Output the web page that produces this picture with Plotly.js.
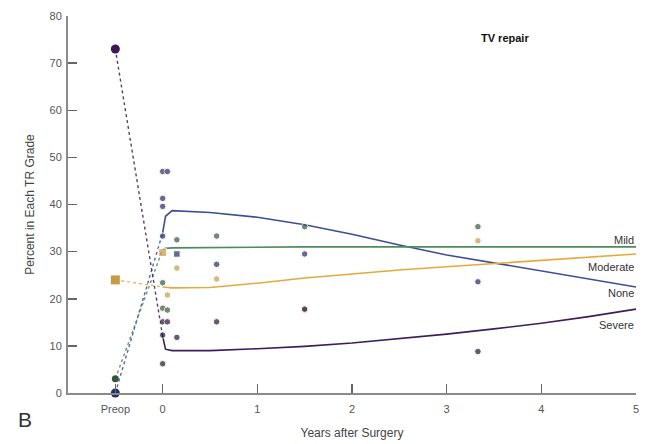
<!DOCTYPE html>
<html>
<head>
<meta charset="utf-8">
<script src="https://cdn.plot.ly/plotly-3.0.1.min.js"></script>
<style>html,body{margin:0;padding:0;background:#fff;}#chart{width:650px;height:444px;}</style>
</head>
<body>
<div id="chart"></div>
<script>
// ---- data ----
var grades = ["None", "Mild", "Moderate", "Severe"];
var preopX = -0.5;
var preopNone = 0, preopMild = 3, preopModerate = 24, preopSevere = 73;

var noneX = [0, 0.05, 0, 0, 0, 0.15, 0.57, 1.5, 3.33];
var noneY = [47, 47, 41.3, 39.6, 33.3, 29.5, 27.3, 29.5, 23.6];
var mildX = [0, 0, 0.05, 0.15, 0.57, 1.5, 3.33];
var mildY = [23.4, 18, 17.6, 32.5, 33.3, 35.3, 35.3];
var modX = [0, 0.05, 0.15, 0.57, 1.5, 3.33];
var modY = [29.8, 20.8, 26.5, 24.2, 17.6, 32.3];
var sevX = [0, 0.05, 0, 0, 0.15, 0.57, 1.5, 3.33];
var sevY = [15.1, 15.1, 12.3, 6.2, 11.8, 15.1, 17.8, 8.8];

var fitT = [0, 0.03, 0.1, 0.5, 1, 1.5, 2, 2.5, 3, 3.5, 4, 4.5, 5];
var noneFit = [34, 37.5, 38.7, 38.3, 37.3, 35.7, 33.7, 31.4, 29.3, 27.6, 25.8, 24.1, 22.5];
var mildFit = [30.5, 30.7, 30.8, 30.9, 31, 31, 31, 31, 31, 31, 31, 31, 31];
var modFit = [22.5, 22.4, 22.3, 22.4, 23.3, 24.4, 25.3, 26.1, 26.8, 27.5, 28.2, 28.9, 29.5];
var sevFit = [12, 9.3, 9.0, 9.0, 9.4, 9.9, 10.6, 11.5, 12.5, 13.6, 14.8, 16.2, 17.8];

var labelY = {None: 21.2, Mild: 32.5, Moderate: 26.8, Severe: 14.4};

var xTickVals = [-0.5, 0, 1, 2, 3, 4, 5];
var xTickText = ["Preop", "0", "1", "2", "3", "4", "5"];

// ---- styling ----
var col = {None: "#3f4c98", Mild: "#4f8a5c", Moderate: "#e8a93a", Severe: "#3a1f5c"};
var ptCol = {None: "#262c66", Mild: "#34563c", Moderate: "#c99a45", Severe: "#24142e"};
var font = "Liberation Sans, Arial, sans-serif";

var series = {
  None: {x: noneX, y: noneY, fit: noneFit, pre: preopNone},
  Mild: {x: mildX, y: mildY, fit: mildFit, pre: preopMild},
  Moderate: {x: modX, y: modY, fit: modFit, pre: preopModerate},
  Severe: {x: sevX, y: sevY, fit: sevFit, pre: preopSevere}
};

var traces = [];
grades.forEach(function (g) {
  var s = series[g];
  traces.push({x: [preopX, fitT[0]], y: [s.pre, s.fit[0]], mode: "lines",
    line: {color: col[g], width: 1.4, dash: "dot"}, opacity: 0.85, hoverinfo: "skip", showlegend: false, cliponaxis: false});
  traces.push({x: fitT, y: s.fit, mode: "lines",
    line: {color: col[g], width: 1.6}, showlegend: false, cliponaxis: false});
});
grades.forEach(function (g) {
  var s = series[g];
  var symbols = s.x.map(function (v, i) {
    if (g === "Moderate" && i === 0) return "square";
    if (g === "None" && i === 5) return "square";
    return "circle";
  });
  var sizes = s.x.map(function (v, i) {
    if (g === "Moderate" && i === 0) return 8;
    return 6.5;
  });
  traces.push({x: s.x, y: s.y, mode: "markers",
    marker: {color: ptCol[g], size: sizes, symbol: symbols}, showlegend: false, cliponaxis: false});
  traces.push({x: [preopX], y: [s.pre], mode: "markers",
    marker: {color: (g === "Severe" ? "#3e1854" : ptCol[g]), size: (g === "Mild" ? 7 : 9),
      symbol: (g === "Moderate" ? "square" : "circle")}, showlegend: false, cliponaxis: false});
});

var annotations = grades.map(function (g) {
  return {x: 5, y: labelY[g], xref: "x", yref: "y", text: g, showarrow: false,
    xanchor: "right", yanchor: "middle", font: {family: font, size: 11, color: "#333"}};
});
annotations.push({x: 0.77, y: 0.942, xref: "paper", yref: "paper", text: "<b>TV repair</b>", showarrow: false,
  xanchor: "center", yanchor: "middle", font: {family: font, size: 11, color: "#111"}});
annotations.push({x: -0.075, y: -0.07, xref: "paper", yref: "paper", text: "B", showarrow: false,
  xanchor: "center", yanchor: "middle", font: {family: font, size: 21, color: "#333"}});

var axisFont = {family: font, size: 11, color: "#555"};
var layout = {
  width: 650, height: 444,
  margin: {l: 68, r: 14, t: 16, b: 51},
  paper_bgcolor: "#fff", plot_bgcolor: "#fff",
  showlegend: false,
  xaxis: {range: [-1, 5], showgrid: false, zeroline: false, showline: true, linecolor: "#8a8a8a", linewidth: 2,
    ticks: "inside", ticklen: 9, tickwidth: 1.5, tickcolor: "#666",
    tickvals: xTickVals, ticktext: xTickText, tickfont: axisFont, ticklabelstandoff: 5,
    title: {text: "Years after Surgery", font: {family: font, size: 12, color: "#444"}, standoff: 14}},
  yaxis: {range: [0, 80], showgrid: false, zeroline: false, showline: true, linecolor: "#8a8a8a", linewidth: 2,
    ticks: "inside", ticklen: 9, tickwidth: 1.5, tickcolor: "#666",
    tickvals: [0, 10, 20, 30, 40, 50, 60, 70, 80], tickfont: axisFont, ticklabelstandoff: 2,
    title: {text: "Percent in Each TR Grade", font: {family: font, size: 12, color: "#444"}, standoff: 12}},
  annotations: annotations
};

Plotly.newPlot("chart", traces, layout, {displayModeBar: false, staticPlot: true});
</script>
</body>
</html>
